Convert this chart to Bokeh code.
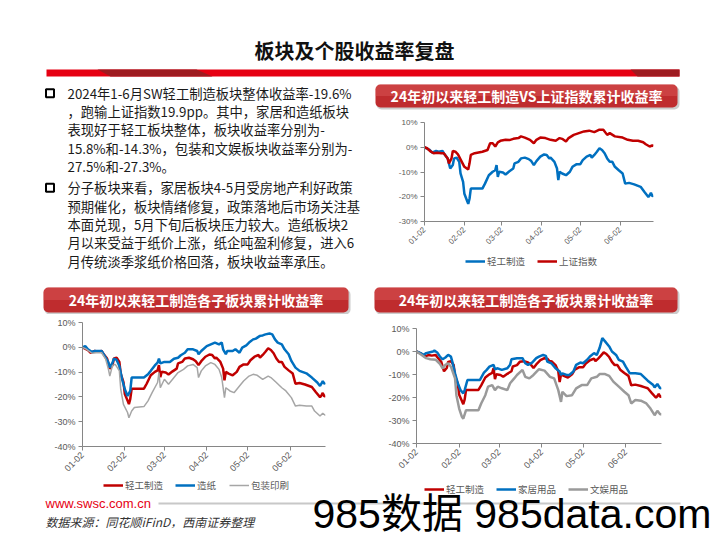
import math
import pandas as pd
from bokeh.plotting import figure
from bokeh.layouts import column, row
from bokeh.models import (Range1d, FixedTicker, PrintfTickFormatter, DatetimeTickFormatter,
                          Legend, LegendItem, BoxAnnotation, ColumnDataSource)
from bokeh.core.properties import value
from bokeh.embed import file_html
from bokeh.resources import INLINE

# ---------------- data (day offset from 2024-01-02, cumulative return %) ----------------
START = "2024-01-02"
END = "2024-06-28"
tick_labels = ["01-02", "02-02", "03-02", "04-02", "05-02", "06-02"]

title_main = "板块及个股收益率复盘"
chart_titles = ["24年初以来轻工制造VS上证指数累计收益率",
                "24年初以来轻工制造各子板块累计收益率",
                "24年初以来轻工制造各子板块累计收益率"]

# 轻工制造
lg = [(0, 0.0), (4, -1.1), (6, -2.2), (9, -1.5), (11, -1.8), (14, -1.5), (15, -2.4), (18, -4.5),
      (20, -8.6), (22, -7.2), (23, -4.5), (25, -4.2), (27, -5.9), (28, -10.6), (30, -14.0),
      (31, -18.8), (33, -21.5), (34, -22.9), (35, -20.8), (36, -16.7), (45, -16.7), (47, -14.7),
      (50, -11.3), (53, -9.9), (55, -9.3), (56, -7.2), (57, -12.0), (58, -9.9), (61, -10.2),
      (63, -11.0), (66, -9.7), (69, -8.6), (70, -6.5), (73, -5.9), (75, -4.5), (78, -4.2),
      (81, -4.8), (83, -5.6), (85, -7.2), (87, -5.6), (90, -3.8), (93, -2.9), (95, -3.1),
      (97, -4.5), (98, -4.2), (101, -5.9), (103, -8.6), (104, -13.3), (105, -9.9), (107, -10.6),
      (110, -11.3), (113, -9.9), (115, -7.9), (118, -6.9), (121, -6.9), (123, -5.2), (126, -3.8),
      (129, -3.1), (130, -4.2), (132, -3.1), (134, -1.8), (136, -0.4), (138, -1.1), (140, -2.4),
      (142, -4.5), (144, -5.9), (146, -5.9), (148, -7.9), (151, -9.3), (154, -10.6), (156, -14.7),
      (159, -14.4), (163, -15.0), (166, -15.6), (168, -16.0), (171, -18.1), (174, -20.1),
      (175, -19.4), (176, -18.4), (177, -19.7), (178, -19.6)]

# 上证指数
sh = [(0, 0.0), (2, -0.4), (5, -1.8), (7, -2.4), (10, -2.2), (13, -2.4), (15, -2.4), (18, -4.5),
      (19, -6.5), (21, -4.5), (22, -1.5), (24, -1.8), (26, -2.9), (29, -5.9), (31, -7.9),
      (34, -9.0), (35, -6.5), (36, -3.1), (39, -2.4), (45, -1.8), (49, -1.1), (51, 1.6), (53, 1.6),
      (55, 0.3), (57, 2.0), (59, 2.6), (63, 3.0), (66, 2.9), (69, 3.4), (73, 3.7), (75, 4.4),
      (78, 3.9), (82, 3.0), (85, 1.6), (87, 3.0), (90, 3.9), (94, 3.7), (98, 3.0), (102, 2.6),
      (105, 3.7), (107, 3.4), (110, 2.3), (112, 3.7), (116, 5.0), (120, 5.7), (124, 6.4),
      (128, 6.7), (132, 6.1), (136, 7.1), (139, 7.1), (142, 5.0), (144, 5.7), (148, 4.4),
      (154, 3.9), (158, 3.0), (162, 2.6), (166, 2.6), (170, 2.0), (172, 1.2), (175, 0.3),
      (177, 0.7), (178, 0.5)]

# 造纸
zz = [(0, 0.0), (2, 0.5), (4, -0.8), (7, -1.9), (9, -1.5), (12, -1.5), (14, -1.5), (17, -4.2),
      (19, -6.2), (20, -8.2), (22, -6.2), (23, -4.6), (25, -5.1), (27, -7.5), (29, -12.9),
      (31, -16.9), (33, -19.6), (35, -17.6), (36, -12.2), (45, -12.2), (48, -10.9), (50, -9.5),
      (53, -7.3), (55, -6.2), (56, -4.6), (57, -6.5), (60, -5.9), (64, -5.9), (67, -4.6),
      (70, -4.2), (72, -3.2), (75, -2.2), (77, -0.8), (81, -0.8), (84, -1.5), (85, -2.8),
      (87, -1.5), (91, 0.5), (94, 1.2), (97, 1.9), (100, 1.2), (102, 1.9), (103, -0.8),
      (105, -2.8), (106, -1.5), (110, -1.5), (112, -0.8), (115, -2.2), (117, -0.1), (120, 0.8),
      (122, 1.9), (125, 3.2), (127, 3.5), (130, 4.6), (132, 4.8), (134, 5.2), (137, 5.6),
      (139, 5.2), (141, 3.2), (143, 1.9), (146, 1.2), (148, -0.8), (151, -2.8), (153, -5.5),
      (156, -8.2), (159, -9.5), (164, -10.5), (168, -12.2), (172, -14.2), (174, -15.6),
      (176, -13.6), (177, -14.7), (178, -14.3)]

# 包装印刷
bz = [(0, 0.0), (3, -0.8), (7, -2.4), (10, -2.2), (14, -2.2), (17, -4.8), (19, -8.9), (20, -11.6),
      (22, -7.3), (24, -6.9), (27, -9.5), (28, -16.9), (30, -23.0), (33, -26.3), (34, -28.4),
      (36, -25.7), (38, -24.3), (45, -23.9), (48, -21.6), (51, -18.3), (55, -14.2), (56, -10.2),
      (57, -16.3), (60, -12.9), (63, -14.9), (66, -12.9), (70, -10.2), (74, -8.9), (77, -7.5),
      (81, -6.9), (84, -8.2), (85, -12.2), (87, -9.5), (90, -7.5), (94, -6.2), (97, -6.9),
      (100, -8.9), (102, -12.2), (104, -20.3), (105, -16.3), (108, -17.6), (111, -18.3),
      (115, -15.6), (118, -13.6), (122, -11.6), (125, -10.9), (128, -11.3), (132, -12.9),
      (136, -11.6), (138, -12.2), (142, -14.2), (146, -16.3), (149, -17.6), (153, -20.3),
      (156, -23.7), (159, -23.4), (164, -23.7), (168, -23.7), (170, -25.7), (174, -27.7),
      (176, -26.6), (178, -27.5)]

# 家居用品
jj = [(0, 0.0), (3, -0.7), (5, -1.5), (7, -0.7), (9, -0.4), (12, 0.0), (13, 0.4), (15, -0.4),
      (17, -2.2), (19, -3.4), (21, -2.6), (23, -1.5), (25, -2.2), (26, -4.4), (28, -9.5),
      (30, -13.8), (32, -16.8), (34, -18.2), (35, -16.8), (37, -12.4), (46, -12.4), (49, -9.2),
      (51, -8.0), (53, -6.6), (56, -5.8), (57, -7.7), (59, -7.3), (62, -8.0), (66, -7.3),
      (68, -5.8), (69, -3.4), (73, -2.9), (77, -2.9), (79, -5.1), (81, -5.8), (84, -4.8),
      (87, -2.9), (89, -2.2), (92, -1.5), (94, -1.9), (95, -4.4), (98, -5.1), (101, -7.3),
      (104, -8.7), (105, -10.2), (106, -9.5), (109, -10.2), (111, -10.2), (114, -8.7),
      (116, -5.8), (119, -4.8), (121, -5.1), (124, -3.6), (126, -2.2), (129, -0.7), (131, -1.5),
      (133, 1.5), (135, 5.8), (137, 4.4), (140, 2.2), (142, 0.0), (145, -1.5), (147, -3.6),
      (150, -4.4), (152, -6.6), (155, -9.5), (159, -9.5), (163, -9.8), (168, -12.7),
      (172, -14.6), (173, -15.6), (175, -14.1), (177, -16.0), (178, -15.8)]

# 文娱用品
wy = [(0, 0.0), (3, -1.2), (7, -2.9), (10, -3.4), (14, -3.6), (17, -5.4), (19, -7.3), (21, -5.8),
      (23, -5.1), (25, -6.6), (28, -11.7), (29, -19.0), (31, -24.8), (33, -28.4), (34, -29.2),
      (36, -25.5), (45, -25.5), (47, -22.6), (50, -19.0), (52, -15.3), (55, -14.6), (57, -16.8),
      (59, -15.3), (62, -16.0), (66, -16.8), (68, -13.8), (71, -11.7), (73, -10.2), (77, -8.0),
      (79, -11.0), (82, -11.7), (85, -10.2), (89, -7.7), (93, -8.3), (97, -11.0), (100, -11.7),
      (103, -16.8), (105, -21.9), (106, -17.5), (109, -19.4), (113, -19.0), (116, -16.0),
      (120, -14.6), (124, -14.6), (127, -11.7), (131, -11.0), (133, -9.8), (137, -9.8),
      (140, -10.6), (143, -13.1), (147, -15.3), (151, -17.5), (154, -19.0), (156, -22.6),
      (159, -21.1), (163, -21.4), (167, -22.6), (170, -24.8), (173, -27.7), (175, -25.8),
      (177, -27.3), (178, -27.3)]

para1 = ["2024年1-6月SW轻工制造板块整体收益率-19.6%",
         "，跑输上证指数19.9pp。其中，家居和造纸板块",
         "表现好于轻工板块整体，板块收益率分别为-",
         "15.8%和-14.3%，包装和文娱板块收益率分别为-",
         "27.5%和-27.3%。"]
para2 = ["分子板块来看，家居板块4-5月受房地产利好政策",
         "预期催化，板块情绪修复，政策落地后市场关注基",
         "本面兑现，5月下旬后板块压力较大。造纸板块2",
         "月以来受益于纸价上涨，纸企吨盈利修复，进入6",
         "月传统淡季浆纸价格回落，板块收益率承压。"]

BLUE = "#0070C0"
RED = "#C00000"
GRAY = "#A6A6A6"
CJK = "Noto Sans CJK SC"
LAT = "Liberation Sans"

T0 = pd.Timestamp(START)
X0 = T0.to_pydatetime()
X1 = pd.Timestamp(END).to_pydatetime()
tick_ms = [pd.Timestamp("2024-" + t).value // 10**6 for t in tick_labels]


def no_align(p):
    try:
        p.frame_align = False
    except Exception:
        pass
    return p


def make_src(pairs):
    days = [d for d, _ in pairs]
    vals = [v for _, v in pairs]
    xs = (T0 + pd.to_timedelta(days, unit="D")).to_numpy()
    return ColumnDataSource(dict(x=xs, y=vals))


def blank(w, h):
    p = figure(width=w, height=h, x_range=Range1d(0, w), y_range=Range1d(0, h),
               output_backend="svg", toolbar_location=None,
               x_axis_location=None, y_axis_location=None,
               min_border_left=0, min_border_right=0, min_border_top=0, min_border_bottom=0)
    p.grid.visible = False
    p.outline_line_color = None
    p.background_fill_color = "white"
    p.border_fill_color = "white"
    return no_align(p)


def banner(w, h, x0, x1, y0, y1, text):
    p = blank(w, h)
    p.add_layout(BoxAnnotation(left=x0 + 1, right=x1 + 2, top=h - y0 - 2, bottom=h - y1 - 2,
                               fill_color="#9a9a9a", fill_alpha=0.5, line_color=None,
                               border_radius=5, level="underlay"))
    p.add_layout(BoxAnnotation(left=x0, right=x1, top=h - y0, bottom=h - y1,
                               fill_color="#bf2c2e", fill_alpha=1.0, line_color=None,
                               border_radius=5, level="underlay"))
    p.add_layout(BoxAnnotation(left=x0, right=x1, top=h - y0, bottom=h - (y0 + y1) / 2,
                               fill_color="#e56a66", fill_alpha=0.35, line_color=None,
                               border_radius=(5, 5, 0, 0), level="underlay"))
    p.text(x=[(x0 + x1) / 2], y=[h - (y0 + y1) / 2], text=[text],
           text_font=value(CJK), text_font_style="bold", text_font_size="14px",
           text_color="white", text_align="center", text_baseline="middle")
    return p


def add_legend(p, entries, leg_x, leg_y):
    # legend swatches reuse the series styles; their sample points lie off the canvas
    items = []
    for name, color, lw in entries:
        r = p.line(x=[-50, -40], y=[-50, -50], line_color=color, line_width=lw)
        items.append(LegendItem(label=name, renderers=[r]))
    leg = Legend(items=items, location=(leg_x, leg_y), orientation="horizontal",
                 glyph_width=20, glyph_height=10, label_height=10, label_standoff=2,
                 spacing=12, padding=0, margin=0, border_line_color=None,
                 background_fill_alpha=0, label_text_font=CJK,
                 label_text_font_size="9.5px", label_text_color="#595959")
    p.add_layout(leg)


def chart(w, h, bl, br, bt, bb, ymin, series, tick_px):
    p = figure(width=w, height=h, x_axis_type="datetime",
               x_range=Range1d(X0, X1), y_range=Range1d(ymin, 10),
               output_backend="svg", toolbar_location=None,
               min_border_left=bl, min_border_right=br, min_border_top=bt, min_border_bottom=bb)
    no_align(p)
    p.grid.visible = False
    p.outline_line_color = None
    p.background_fill_color = "white"
    p.border_fill_color = "white"
    p.yaxis.ticker = FixedTicker(ticks=list(range(ymin, 11, 10)))
    p.yaxis.formatter = PrintfTickFormatter(format="%d%%")
    p.xaxis.ticker = FixedTicker(ticks=tick_ms)
    p.xaxis.formatter = DatetimeTickFormatter(days="%m-%d", months="%m-%d", years="%m-%d",
                                              hours="%m-%d", hourmin="%m-%d")
    p.xaxis.major_label_orientation = math.pi / 4
    for ax in (p.xaxis[0], p.yaxis[0]):
        ax.axis_line_color = "#868686"
        ax.major_tick_line_color = "#868686"
        ax.major_tick_out = 4
        ax.major_tick_in = 0
        ax.minor_tick_line_color = None
        ax.major_label_text_color = "#595959"
        ax.major_label_text_font = LAT
        ax.major_label_text_font_size = f"{tick_px}px"
        ax.major_label_standoff = 3
    for name, pairs, color, lw in series:
        p.line("x", "y", source=make_src(pairs), line_color=color, line_width=lw)
    return p


# ---------------- header ----------------
H = 78
head = blank(720, H)
head.text(x=[354], y=[H - 50], text=[title_main], text_font=value(CJK), text_font_style="bold",
          text_font_size="20px", text_color="#111111", text_align="center", text_baseline="middle")
head.quad(left=[46], right=[679], top=[H - 69], bottom=[H - 76], fill_color="#e60012", line_color=None)
head.patch(x=[97, 196, 212, 110], y=[H - 69, H - 69, H - 76, H - 76], fill_color="#9e1b20", line_color=None)
head.patch(x=[630, 679, 679, 637], y=[H - 69, H - 69, H - 76, H - 76], fill_color="#9e1b20", line_color=None)

# ---------------- text block ----------------
TH = 202
txt = blank(365, TH)
ys1 = [14.7 + 18.3 * i for i in range(len(para1))]
ys2 = [109.3 + 18.3 * i for i in range(len(para2))]
txt.text(x=[67] * (len(para1) + len(para2)), y=[TH - y for y in ys1 + ys2], text=para1 + para2,
         text_font=value(CJK), text_font_size="13.3px", text_color="#1a1a1a",
         text_align="left", text_baseline="middle")
txt.scatter(x=[49.5, 49.5], y=[TH - ys1[0], TH - ys2[0]], marker="square", size=8,
            fill_color="white", line_color="black", line_width=2)

# ---------------- charts ----------------
s1 = [("轻工制造", lg, BLUE, 2.5), ("上证指数", sh, RED, 2.5)]
b1 = banner(355, 32, 10, 312, 6, 29, chart_titles[0])
c1 = chart(355, 142, 59, 67, 12, 31, -30, s1, 8)
l1 = blank(355, 28)
add_legend(l1, [(n, c, w) for n, _, c, w in s1], 100, 12)

s2 = [("轻工制造", lg, RED, 2.5), ("造纸", zz, BLUE, 2.5), ("包装印刷", bz, GRAY, 1.5)]
b2 = banner(360, 34, 43, 348, 7, 32, chart_titles[1])
c2 = chart(360, 164, 82, 35, 8, 32, -40, s2, 9)

s3 = [("轻工制造", lg, RED, 2.5), ("家居用品", jj, BLUE, 2.5), ("文娱用品", wy, "#9a9a9a", 2.5)]
b3 = banner(360, 34, 14, 317, 7, 32, chart_titles[2])
c3 = chart(360, 164, 56, 59, 14, 35, -40, s3, 9)

# ---------------- footer (legends of the two lower charts + source) ----------------
FH = 62
foot = blank(720, FH)
foot.line(x=[158, 680], y=[FH - 25, FH - 25], line_color="#c8c8c8", line_width=2)
foot.text(x=[45], y=[FH - 25], text=["www.swsc.com.cn"], text_font=value(LAT),
          text_font_size="13px", text_color="#e60012", text_align="left", text_baseline="middle")
foot.text(x=[45], y=[FH - 43], text=["数据来源：同花顺iFinD，西南证券整理"], text_font=value(CJK),
          text_font_style="italic", text_font_size="12px", text_color="#333333",
          text_align="left", text_baseline="middle")
foot.text(x=[312], y=[FH - 35], text=["985数据 985data.com"],
          text_font=value("Liberation Sans, Noto Sans CJK SC"), text_font_size="41px",
          text_color="#000000", text_align="left", text_baseline="middle")
add_legend(foot, [(n, c, w) for n, _, c, w in s2], 103, FH - 9 - 5)
add_legend(foot, [(n, c, w) for n, _, c, w in s3], 424, FH - 13 - 5)

layout = column(
    head,
    row(txt, column(b1, c1, l1)),
    row(column(b2, c2), column(b3, c3)),
    foot,
)

open("out.html", "w").write(file_html(layout, INLINE))
